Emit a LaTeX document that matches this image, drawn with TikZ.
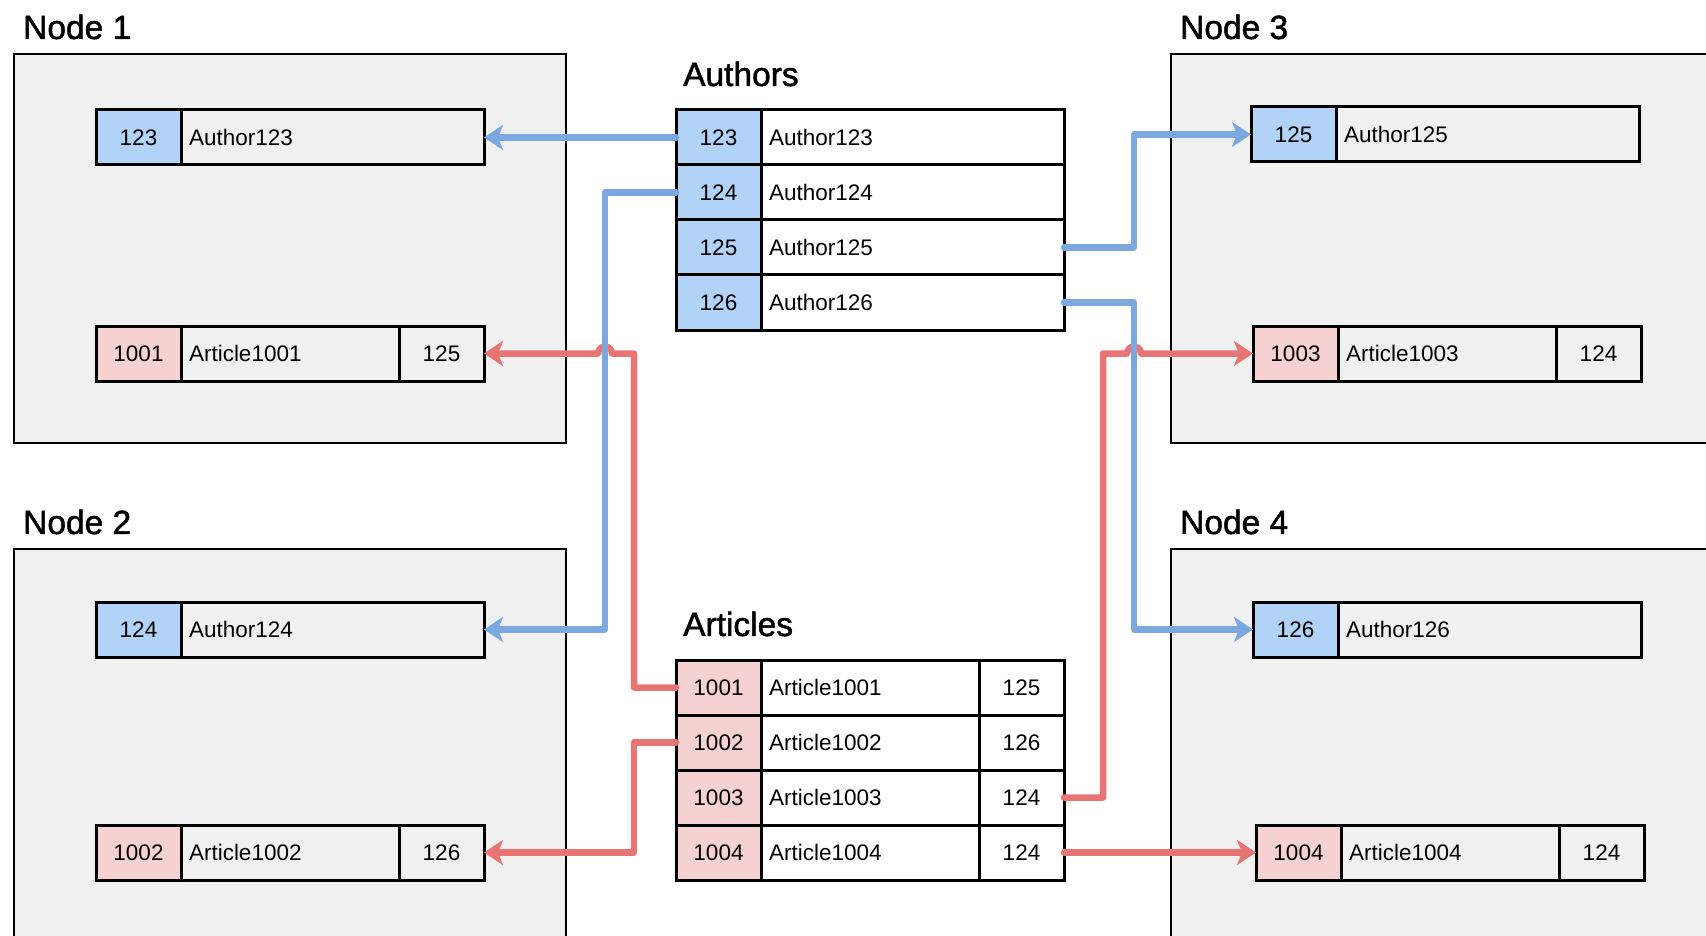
\documentclass[tikz,border=0pt]{standalone}
\usepackage{fontspec}
\setmainfont{Liberation Sans}
\newfontfamily\titlefont[FakeBold=1.5]{Liberation Sans}
\usetikzlibrary{arrows.meta,calc}

\definecolor{nodebg}{HTML}{F0F0F0}
\definecolor{keyblue}{HTML}{B1D3F8}
\definecolor{keypink}{HTML}{F5D1D1}
\definecolor{linkblue}{HTML}{7CA8E2}
\definecolor{linkred}{HTML}{E87474}

\begin{document}
\begin{tikzpicture}[x=1pt,y=-1pt,
  every node/.style={font=\fontsize{22.5}{26}\selectfont},
  title/.style={font=\titlefont\fontsize{33.5}{38}\selectfont, anchor=west, inner sep=0pt},
  serverbox/.style={draw=black, line width=2.8pt, fill=nodebg},
  cell/.style={draw=black, line width=3pt, minimum height=55pt, inner sep=0pt,
    outer sep=0pt, anchor=north west, text height=16pt, text depth=0pt},
  keycell/.style={cell, minimum width=85pt},
  refcell/.style={cell, minimum width=85pt},
  authname/.style={cell, minimum width=303pt, text width=287pt, inner xsep=8pt, align=left},
  artname/.style={cell, minimum width=218pt, text width=202pt, inner xsep=8pt, align=left},
  link/.style={line width=6.5pt, line cap=round, line join=round,
    -{Stealth[length=19pt, width=25pt, inset=5pt]}},
  bluelink/.style={link, draw=linkblue},
  redlink/.style={link, draw=linkred}]

\useasboundingbox (0,0) rectangle (1706,936);
\clip (0,0) rectangle (1706,936);

% routing columns for the connectors
\coordinate (blueL) at (605,0);
\coordinate (redL) at (634,0);
\coordinate (redR) at (1103,0);
\coordinate (blueR) at (1134,0);

% ---------- server nodes ----------
\draw[serverbox] (14,54) rectangle (566,443);
\draw[serverbox] (14,549) rectangle (566,960);
\draw[serverbox] (1171,54) rectangle (1730,443);
\draw[serverbox] (1171,549) rectangle (1730,960);

\node[title] (t1) at (23,27) {Node 1};
\node[title] (t2) at (23,522) {Node 2};
\node[title] (t3) at (1180,27) {Node 3};
\node[title] (t4) at (1180,522) {Node 4};

% Node 1
\node[keycell, fill=keyblue] (n1ak) at (96,110) {123};
\node[authname] (n1an) at (n1ak.north east) {Author123};
\node[keycell, fill=keypink] (n1rk) at (96,326) {1001};
\node[artname] (n1rn) at (n1rk.north east) {Article1001};
\node[refcell] (n1rr) at (n1rn.north east) {125};

% Node 2
\node[keycell, fill=keyblue] (n2ak) at (96,602) {124};
\node[authname] (n2an) at (n2ak.north east) {Author124};
\node[keycell, fill=keypink] (n2rk) at (96,825) {1002};
\node[artname] (n2rn) at (n2rk.north east) {Article1002};
\node[refcell] (n2rr) at (n2rn.north east) {126};

% Node 3
\node[keycell, fill=keyblue] (n3ak) at (1251,107) {125};
\node[authname] (n3an) at (n3ak.north east) {Author125};
\node[keycell, fill=keypink] (n3rk) at (1253,326) {1003};
\node[artname] (n3rn) at (n3rk.north east) {Article1003};
\node[refcell] (n3rr) at (n3rn.north east) {124};

% Node 4
\node[keycell, fill=keyblue] (n4ak) at (1253,602) {126};
\node[authname] (n4an) at (n4ak.north east) {Author126};
\node[keycell, fill=keypink] (n4rk) at (1256,825) {1004};
\node[artname] (n4rn) at (n4rk.north east) {Article1004};
\node[refcell] (n4rr) at (n4rn.north east) {124};

% ---------- Authors table ----------
\node[title] (tauth) at (683,74) {Authors};
\node[keycell, fill=keyblue] (ak1) at (676,110) {123};
\node[authname, fill=white] (an1) at (ak1.north east) {Author123};
\node[keycell, fill=keyblue] (ak2) at (676,165) {124};
\node[authname, fill=white] (an2) at (ak2.north east) {Author124};
\node[keycell, fill=keyblue] (ak3) at (676,220) {125};
\node[authname, fill=white] (an3) at (ak3.north east) {Author125};
\node[keycell, fill=keyblue] (ak4) at (676,275) {126};
\node[authname, fill=white] (an4) at (ak4.north east) {Author126};

% ---------- Articles table ----------
\node[title] (tart) at (683,624) {Articles};
\node[keycell, fill=keypink] (rk1) at (676,660) {1001};
\node[artname, fill=white] (rn1) at (rk1.north east) {Article1001};
\node[refcell, fill=white] (rr1) at (rn1.north east) {125};
\node[keycell, fill=keypink] (rk2) at (676,715) {1002};
\node[artname, fill=white] (rn2) at (rk2.north east) {Article1002};
\node[refcell, fill=white] (rr2) at (rn2.north east) {126};
\node[keycell, fill=keypink] (rk3) at (676,770) {1003};
\node[artname, fill=white] (rn3) at (rk3.north east) {Article1003};
\node[refcell, fill=white] (rr3) at (rn3.north east) {124};
\node[keycell, fill=keypink] (rk4) at (676,825) {1004};
\node[artname, fill=white] (rn4) at (rk4.north east) {Article1004};
\node[refcell, fill=white] (rr4) at (rn4.north east) {124};

% ---------- article placement (red) ----------
\draw[redlink] (rk1.west) -- (rk1.west -| redL) -- (n1rr.east -| redL)
  -- ($(n1rr.east -| blueL)+(7,0)$) arc[start angle=0, end angle=180, radius=7pt]
  -- (n1rr.east);
\draw[redlink] (rk2.west) -- (rk2.west -| redL) |- (n2rr.east);
\draw[redlink] (rr3.east) -- (rr3.east -| redR) -- (n3rk.west -| redR)
  -- ($(n3rk.west -| blueR)+(-7,0)$) arc[start angle=180, end angle=0, radius=7pt]
  -- (n3rk.west);
\draw[redlink] (rr4.east) -- (n4rk.west);

% ---------- author placement (blue) ----------
\draw[bluelink] (ak1.west) -- (n1an.east);
\draw[bluelink] (ak2.west) -- (ak2.west -| blueL) |- (n2an.east);
\draw[bluelink] (an3.east) -- (an3.east -| blueR) |- (n3ak.west);
\draw[bluelink] (an4.east) -- (an4.east -| blueR) |- (n4ak.west);
\end{tikzpicture}
\end{document}
